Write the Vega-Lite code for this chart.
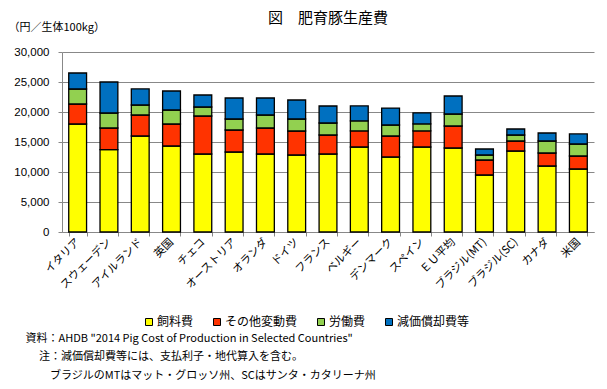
{
  "$schema": "https://vega.github.io/schema/vega-lite/v6.json",
  "width": 532,
  "height": 180,
  "autosize": {"type": "none"},
  "padding": {"left": 62, "top": 52, "right": 13, "bottom": 157},
  "background": "white",
  "title": {
    "text": "図　肥育豚生産費",
    "font": "Noto Sans CJK JP",
    "fontSize": 15,
    "fontWeight": "normal",
    "color": "#000000",
    "anchor": "middle",
    "offset": -5
  },
  "config": {
    "view": {"stroke": null},
    "font": "Noto Sans CJK JP"
  },
  "data": {
    "values": [
      {"c": "イタリア", "k": "飼料費", "o": 1, "v": 18000},
      {"c": "イタリア", "k": "その他変動費", "o": 2, "v": 3330},
      {"c": "イタリア", "k": "労働費", "o": 3, "v": 2500},
      {"c": "イタリア", "k": "減価償却費等", "o": 4, "v": 2670},
      {"c": "スウェーデン", "k": "飼料費", "o": 1, "v": 13720},
      {"c": "スウェーデン", "k": "その他変動費", "o": 2, "v": 3610},
      {"c": "スウェーデン", "k": "労働費", "o": 3, "v": 2500},
      {"c": "スウェーデン", "k": "減価償却費等", "o": 4, "v": 5170},
      {"c": "アイルランド", "k": "飼料費", "o": 1, "v": 16000},
      {"c": "アイルランド", "k": "その他変動費", "o": 2, "v": 3500},
      {"c": "アイルランド", "k": "労働費", "o": 3, "v": 1670},
      {"c": "アイルランド", "k": "減価償却費等", "o": 4, "v": 2670},
      {"c": "英国", "k": "飼料費", "o": 1, "v": 14330},
      {"c": "英国", "k": "その他変動費", "o": 2, "v": 3670},
      {"c": "英国", "k": "労働費", "o": 3, "v": 2330},
      {"c": "英国", "k": "減価償却費等", "o": 4, "v": 3170},
      {"c": "チェコ", "k": "飼料費", "o": 1, "v": 13000},
      {"c": "チェコ", "k": "その他変動費", "o": 2, "v": 6330},
      {"c": "チェコ", "k": "労働費", "o": 3, "v": 1500},
      {"c": "チェコ", "k": "減価償却費等", "o": 4, "v": 2000},
      {"c": "オーストリア", "k": "飼料費", "o": 1, "v": 13330},
      {"c": "オーストリア", "k": "その他変動費", "o": 2, "v": 3670},
      {"c": "オーストリア", "k": "労働費", "o": 3, "v": 1830},
      {"c": "オーストリア", "k": "減価償却費等", "o": 4, "v": 3500},
      {"c": "オランダ", "k": "飼料費", "o": 1, "v": 13000},
      {"c": "オランダ", "k": "その他変動費", "o": 2, "v": 4330},
      {"c": "オランダ", "k": "労働費", "o": 3, "v": 2170},
      {"c": "オランダ", "k": "減価償却費等", "o": 4, "v": 2830},
      {"c": "ドイツ", "k": "飼料費", "o": 1, "v": 12830},
      {"c": "ドイツ", "k": "その他変動費", "o": 2, "v": 4000},
      {"c": "ドイツ", "k": "労働費", "o": 3, "v": 2000},
      {"c": "ドイツ", "k": "減価償却費等", "o": 4, "v": 3170},
      {"c": "フランス", "k": "飼料費", "o": 1, "v": 13000},
      {"c": "フランス", "k": "その他変動費", "o": 2, "v": 3170},
      {"c": "フランス", "k": "労働費", "o": 3, "v": 2000},
      {"c": "フランス", "k": "減価償却費等", "o": 4, "v": 2830},
      {"c": "ベルギー", "k": "飼料費", "o": 1, "v": 14170},
      {"c": "ベルギー", "k": "その他変動費", "o": 2, "v": 2670},
      {"c": "ベルギー", "k": "労働費", "o": 3, "v": 1670},
      {"c": "ベルギー", "k": "減価償却費等", "o": 4, "v": 2500},
      {"c": "デンマーク", "k": "飼料費", "o": 1, "v": 12500},
      {"c": "デンマーク", "k": "その他変動費", "o": 2, "v": 3500},
      {"c": "デンマーク", "k": "労働費", "o": 3, "v": 1830},
      {"c": "デンマーク", "k": "減価償却費等", "o": 4, "v": 2830},
      {"c": "スペイン", "k": "飼料費", "o": 1, "v": 14170},
      {"c": "スペイン", "k": "その他変動費", "o": 2, "v": 2670},
      {"c": "スペイン", "k": "労働費", "o": 3, "v": 1170},
      {"c": "スペイン", "k": "減価償却費等", "o": 4, "v": 1830},
      {"c": "ＥＵ平均", "k": "飼料費", "o": 1, "v": 14000},
      {"c": "ＥＵ平均", "k": "その他変動費", "o": 2, "v": 3670},
      {"c": "ＥＵ平均", "k": "労働費", "o": 3, "v": 2000},
      {"c": "ＥＵ平均", "k": "減価償却費等", "o": 4, "v": 3000},
      {"c": "ブラジル(MT)", "k": "飼料費", "o": 1, "v": 9500},
      {"c": "ブラジル(MT)", "k": "その他変動費", "o": 2, "v": 2500},
      {"c": "ブラジル(MT)", "k": "労働費", "o": 3, "v": 830},
      {"c": "ブラジル(MT)", "k": "減価償却費等", "o": 4, "v": 1000},
      {"c": "ブラジル(SC)", "k": "飼料費", "o": 1, "v": 13500},
      {"c": "ブラジル(SC)", "k": "その他変動費", "o": 2, "v": 1670},
      {"c": "ブラジル(SC)", "k": "労働費", "o": 3, "v": 1000},
      {"c": "ブラジル(SC)", "k": "減価償却費等", "o": 4, "v": 1000},
      {"c": "カナダ", "k": "飼料費", "o": 1, "v": 11000},
      {"c": "カナダ", "k": "その他変動費", "o": 2, "v": 2170},
      {"c": "カナダ", "k": "労働費", "o": 3, "v": 2000},
      {"c": "カナダ", "k": "減価償却費等", "o": 4, "v": 1330},
      {"c": "米国", "k": "飼料費", "o": 1, "v": 10500},
      {"c": "米国", "k": "その他変動費", "o": 2, "v": 2170},
      {"c": "米国", "k": "労働費", "o": 3, "v": 2000},
      {"c": "米国", "k": "減価償却費等", "o": 4, "v": 1670}
    ]
  },
  "mark": {"type": "bar", "stroke": "#000000", "strokeWidth": 1.3},
  "encoding": {
    "x": {
      "field": "c",
      "type": "nominal",
      "sort": null,
      "scale": {"paddingInner": 0.43, "paddingOuter": 0.215},
      "axis": {
        "tickBand": "extent",
        "domainColor": "#888888",
        "tickColor": "#888888",
        "tickSize": 4,
        "labelAngle": -45,
        "labelAlign": "right",
        "labelBaseline": "middle",
        "labelFont": "Noto Sans CJK JP",
        "labelFontSize": 11,
        "labelColor": "#000000",
        "labelPadding": 4,
        "labelLimit": 200,
        "grid": false,
        "title": [
          "資料：AHDB \"2014 Pig Cost of Production in Selected Countries\"",
          "\u200b　\u00a0注：減価償却費等には、支払利子・地代算入を含む。",
          "\u200b　　\u00a0ブラジルのMTはマット・グロッソ州、SCはサンタ・カタリーナ州"
        ],
        "titleFont": "Noto Sans CJK JP",
        "titleFontSize": 11,
        "titleFontWeight": "normal",
        "titleColor": "#000000",
        "titleAlign": "left",
        "titleAnchor": "start",
        "titleBaseline": "top",
        "titleLineHeight": 18.5,
        "titleX": -37,
        "titleY": 100
      }
    },
    "y": {
      "field": "v",
      "type": "quantitative",
      "stack": "zero",
      "scale": {"domain": [0, 30000]},
      "axis": {
        "values": [0, 5000, 10000, 15000, 20000, 25000, 30000],
        "format": ",d",
        "domainColor": "#888888",
        "tickColor": "#888888",
        "tickSize": 4,
        "gridColor": "#888888",
        "gridWidth": 1,
        "labelFont": "Liberation Sans",
        "labelFontSize": 11.5,
        "labelColor": "#000000",
        "labelPadding": 9,
        "title": "（円／生体100kg）",
        "titleFont": "Noto Sans CJK JP",
        "titleFontSize": 11,
        "titleFontWeight": "normal",
        "titleColor": "#000000",
        "titleAngle": 0,
        "titleAlign": "left",
        "titleBaseline": "middle",
        "titleX": -54,
        "titleY": -25
      }
    },
    "color": {
      "field": "k",
      "type": "nominal",
      "sort": ["飼料費", "その他変動費", "労働費", "減価償却費等"],
      "scale": {
        "domain": ["飼料費", "その他変動費", "労働費", "減価償却費等"],
        "range": ["#FFFF00", "#FF3300", "#92D050", "#0070C0"]
      },
      "legend": {
        "title": null,
        "orient": "none",
        "direction": "horizontal",
        "legendX": 81,
        "legendY": 264,
        "symbolType": "square",
        "symbolSize": 49,
        "symbolStrokeColor": "#000000",
        "symbolStrokeWidth": 1,
        "symbolOpacity": 1,
        "labelFont": "Noto Sans CJK JP",
        "labelFontSize": 12,
        "labelColor": "#000000",
        "labelOffset": 2,
        "columnPadding": 17
      }
    },
    "order": {"field": "o", "type": "quantitative"}
  }
}
